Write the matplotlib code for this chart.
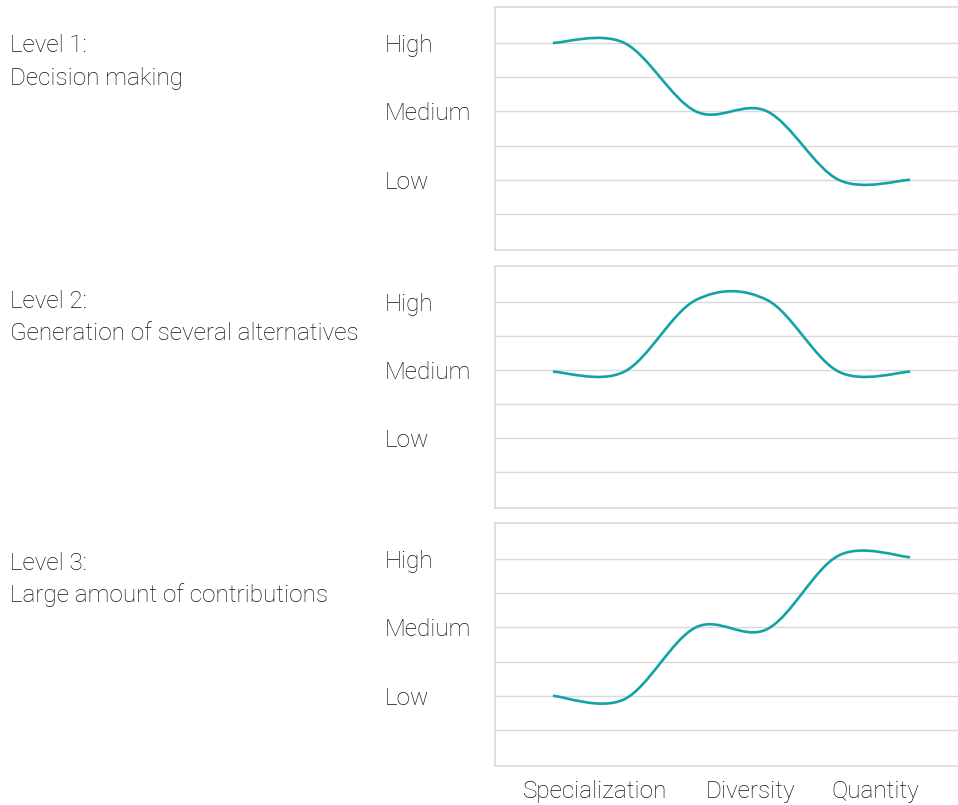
import matplotlib
matplotlib.use("Agg")
import matplotlib.pyplot as plt
from matplotlib.path import Path
from matplotlib.patches import PathPatch
from matplotlib.ticker import FixedLocator

# ---- data ----
categories = ["Specialization", "Diversity", "Quantity"]
level_labels = ["Low", "Medium", "High"]
level_values = [1, 3, 5]
panel_titles = [["Level 1:", "Decision making"],
                ["Level 2:", "Generation of several alternatives"],
                ["Level 3:", "Large amount of contributions"]]
points_x = [0, 1, 2, 3, 4, 5]
level1 = [5.0, 5.0, 3.0, 3.0, 1.0, 1.0]
level2 = [2.95, 2.95, 5.05, 5.05, 2.95, 2.95]
level3 = [1.0, 0.9, 3.0, 2.95, 5.1, 5.05]
series = [level1, level2, level3]

# ---- style / layout ----
W, H = 958, 805
DPI = 100
LINE = "#14a3a5"
GRID = "#d9d9d9"
TXT = "#111111"
FS = 17.5
FONT = ["Roboto", "DejaVu Sans"]
plt.rcParams["font.family"] = FONT

fig = plt.figure(figsize=(W / DPI, H / DPI), dpi=DPI)

panels_px = [(7, 250), (266, 508), (523, 766)]   # top, bottom in px
ax_left = 495
tick_pos = [0.59, 2.76, 4.51]
title_y = [(46, 78), (301, 333), (563, 595)]


def smooth_path(xs, ys):
    n = len(xs)
    verts = [(xs[0], ys[0])]
    codes = [Path.MOVETO]
    for i in range(n - 1):
        p0 = (xs[max(i - 1, 0)], ys[max(i - 1, 0)])
        p1 = (xs[i], ys[i])
        p2 = (xs[i + 1], ys[i + 1])
        p3 = (xs[min(i + 2, n - 1)], ys[min(i + 2, n - 1)])
        c1 = (p1[0] + (p2[0] - p0[0]) / 6, p1[1] + (p2[1] - p0[1]) / 6)
        c2 = (p2[0] - (p3[0] - p1[0]) / 6, p2[1] - (p3[1] - p1[1]) / 6)
        verts += [c1, c2, p2]
        codes += [Path.CURVE4] * 3
    return Path(verts, codes)


for k, (top, bot) in enumerate(panels_px):
    ax = fig.add_axes([ax_left / W, 1 - bot / H, 1 - ax_left / W, (bot - top) / H])
    ax.set_xlim(-0.81, 5.67)
    ax.set_ylim(-1.05, 6.05)
    patch = PathPatch(smooth_path(points_x, series[k]), facecolor="none",
                      edgecolor=LINE, lw=1.9, capstyle="butt", zorder=3)
    ax.add_patch(patch)
    ax.yaxis.set_major_locator(FixedLocator(level_values))
    ax.set_yticklabels(level_labels)
    ax.yaxis.set_minor_locator(FixedLocator([0, 2, 4]))
    ax.grid(True, which="both", axis="y", color=GRID, lw=1.0)
    ax.set_axisbelow(True)
    ax.tick_params(axis="y", which="both", length=0, pad=110 * 72 / DPI,
                   labelsize=FS, labelcolor=TXT)
    for lab in ax.get_yticklabels():
        lab.set_horizontalalignment("left")
        lab.set_fontweight("light")
    if k == 2:
        ax.set_xticks(tick_pos)
        ax.set_xticklabels(categories)
        ax.tick_params(axis="x", length=0, pad=10, labelsize=FS, labelcolor=TXT)
        for lab in ax.get_xticklabels():
            lab.set_fontweight("light")
    else:
        ax.set_xticks([])
    for s in ["left", "top", "bottom"]:
        ax.spines[s].set_color(GRID)
        ax.spines[s].set_linewidth(1.2)
    ax.spines["right"].set_visible(False)

    for j, line in enumerate(panel_titles[k]):
        fig.text(10 / W, 1 - title_y[k][j] / H, line, ha="left", va="center",
                 fontsize=FS, color=TXT, fontweight="light")

fig.savefig("out.png", dpi=DPI)
